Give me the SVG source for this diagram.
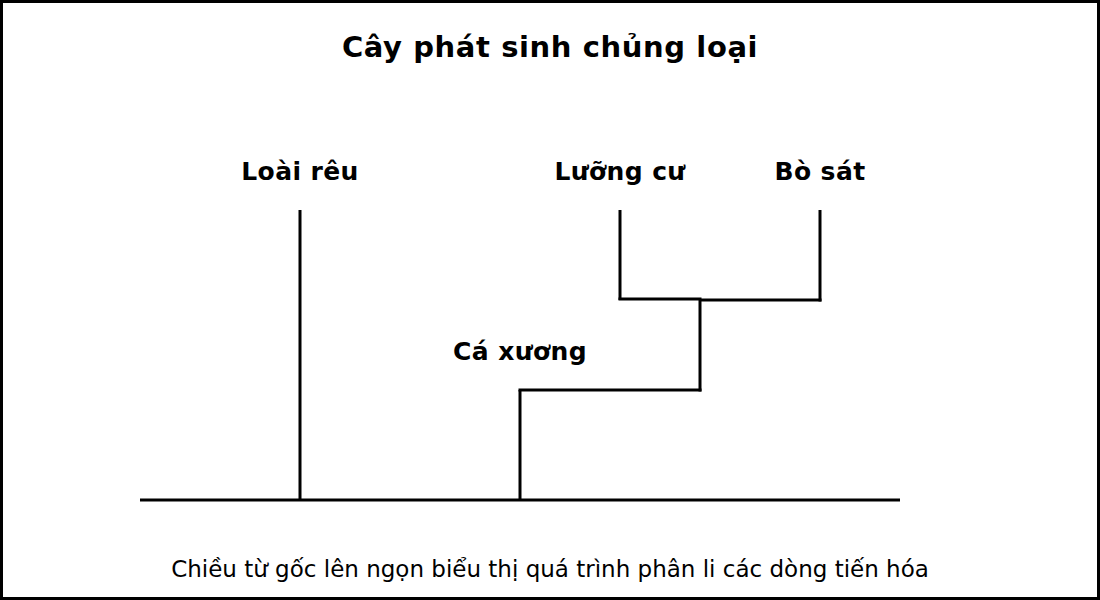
<svg xmlns="http://www.w3.org/2000/svg" width="1100" height="600" viewBox="0 0 1100 600">
<style>
.t{font-family:"DejaVu Sans","Noto Sans",sans-serif;fill:#000;text-anchor:middle}
.title{font-size:29px;font-weight:bold;letter-spacing:0.6px}
.lbl{font-size:25px;font-weight:bold;letter-spacing:0.4px}
.note{font-size:23px}
.ln{stroke:#000;stroke-width:3;fill:none;stroke-linecap:butt}
</style>
<rect x="1.5" y="1.5" width="1097" height="597" fill="#fff" stroke="#000" stroke-width="3"/>
<text class="t title" x="550" y="57">Cây phát sinh chủng loại</text>
<g id="connectors">
<line class="ln" x1="140" y1="500" x2="900" y2="500"/>
<line class="ln" x1="300" y1="210" x2="300" y2="500"/>
<line class="ln" x1="520" y1="390" x2="520" y2="500"/>
<line class="ln" x1="518.5" y1="390" x2="701.5" y2="390"/>
<line class="ln" x1="700" y1="299" x2="700" y2="391.5"/>
<line class="ln" x1="618.5" y1="299" x2="701.5" y2="299"/>
<line class="ln" x1="700" y1="300" x2="821.5" y2="300"/>
<line class="ln" x1="620" y1="210" x2="620" y2="300"/>
<line class="ln" x1="820" y1="210" x2="820" y2="301.5"/>
</g>
<g id="node-loai-reu"><text class="t lbl" x="300" y="180">Loài rêu</text></g>
<g id="node-luong-cu"><text class="t lbl" x="620" y="180">Lưỡng cư</text></g>
<g id="node-bo-sat"><text class="t lbl" x="820" y="180">Bò sát</text></g>
<g id="node-ca-xuong"><text class="t lbl" x="520" y="360">Cá xương</text></g>
<text class="t note" x="550" y="577">Chiều từ gốc lên ngọn biểu thị quá trình phân li các dòng tiến hóa</text>
</svg>
